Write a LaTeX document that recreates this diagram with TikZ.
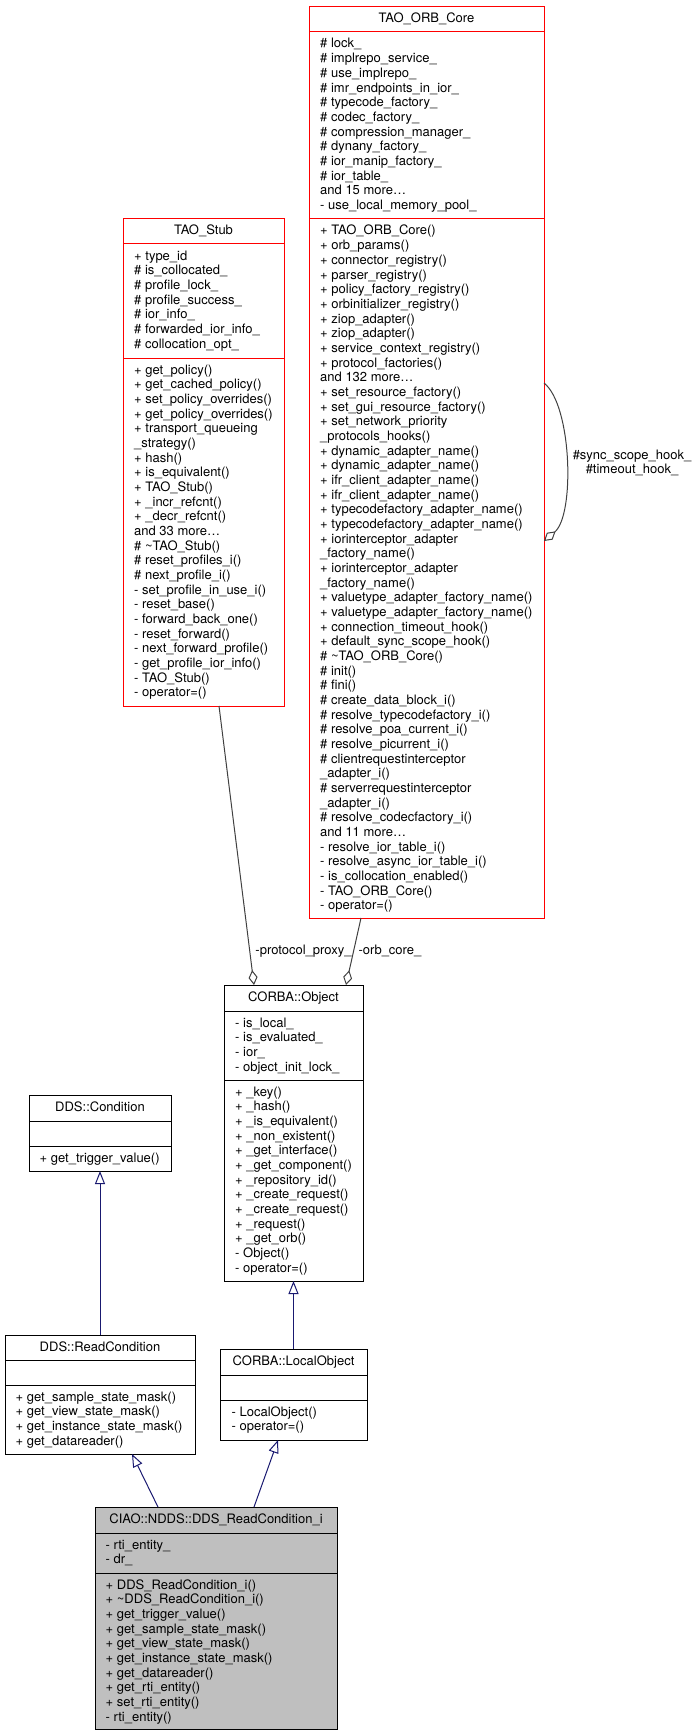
\documentclass[tikz,border=0pt]{standalone}
\usepackage{fontspec}
\setmainfont{TeX Gyre Heros}
\usetikzlibrary{arrows.meta}
\definecolor{midblue}{HTML}{191970}
\definecolor{edgegray}{HTML}{404040}
\definecolor{fillgray}{HTML}{BFBFBF}
\definecolor{tred}{HTML}{FF0000}
\newcommand\umllines[3]{\foreach [count=\i] \t in {#3} {\node[umltxt] at (#1,{#2+16+(\i-1)*14.67}) {\t};}}
\tikzset{
  umlfont/.style={font=\fontsize{13}{14.67}\selectfont},
  umltxt/.style={umlfont, anchor=base west, inner sep=0pt},
  umltitle/.style={umlfont, anchor=base, inner sep=0pt},
  classbox/.style={draw=black, line width=1pt, anchor=north west, inner sep=0pt, outer sep=0pt},
  redbox/.style={classbox, draw=tred},
  sepline/.style={line width=1pt},
  inh/.style={draw=midblue, line width=1pt, -{Triangle[open, length=13pt, width=10pt]}},
  aggr/.style={draw=edgegray, line width=1pt, -{Diamond[open, length=15pt, width=9pt]}},
  edgelabel/.style={umlfont, anchor=base, inner sep=0pt}
}
\begin{document}
\begin{tikzpicture}[x=1pt,y=-1pt]
\useasboundingbox (0,0) rectangle (697,1736);

% ---------------- TAO_ORB_Core ----------------
\node[redbox, minimum width=235, minimum height=911] (core) at (309,7) {};
\draw[sepline, tred] (309,32) -- (544,32);
\draw[sepline, tred] (309,219) -- (544,219);
\node[umltitle] (coreT) at (426.5,23) {TAO\_ORB\_Core};
\umllines{320}{32}{\# lock\_, \# implrepo\_service\_, \# use\_implrepo\_, \# imr\_endpoints\_in\_ior\_, \# typecode\_factory\_, \# codec\_factory\_, \# compression\_manager\_, \# dynany\_factory\_, \# ior\_manip\_factory\_, \# ior\_table\_, and 15 more\ldots, - use\_local\_memory\_pool\_}
\umllines{320}{219}{+ TAO\_ORB\_Core(), + orb\_params(), + connector\_registry(), + parser\_registry(), + policy\_factory\_registry(), + orbinitializer\_registry(), + ziop\_adapter(), + ziop\_adapter(), + service\_context\_registry(), + protocol\_factories(), and 132 more\ldots, + set\_resource\_factory(), + set\_gui\_resource\_factory(), + set\_network\_priority, \_protocols\_hooks(), + dynamic\_adapter\_name(), + dynamic\_adapter\_name(), + ifr\_client\_adapter\_name(), + ifr\_client\_adapter\_name(), + typecodefactory\_adapter\_name(), + typecodefactory\_adapter\_name(), + iorinterceptor\_adapter, \_factory\_name(), + iorinterceptor\_adapter, \_factory\_name(), + valuetype\_adapter\_factory\_name(), + valuetype\_adapter\_factory\_name(), + connection\_timeout\_hook(), + default\_sync\_scope\_hook(), \# \textasciitilde TAO\_ORB\_Core(), \# init(), \# fini(), \# create\_data\_block\_i(), \# resolve\_typecodefactory\_i(), \# resolve\_poa\_current\_i(), \# resolve\_picurrent\_i(), \# clientrequestinterceptor, \_adapter\_i(), \# serverrequestinterceptor, \_adapter\_i(), \# resolve\_codecfactory\_i(), and 11 more\ldots, - resolve\_ior\_table\_i(), - resolve\_async\_ior\_table\_i(), - is\_collocation\_enabled(), - TAO\_ORB\_Core(), - operator=()}

% ---------------- TAO_Stub ----------------
\node[redbox, minimum width=161, minimum height=487] (stub) at (123,219) {};
\draw[sepline, tred] (123,244) -- (284,244);
\draw[sepline, tred] (123,358) -- (284,358);
\node[umltitle] (stubT) at (203.5,235) {TAO\_Stub};
\umllines{134}{244}{+ type\_id, \# is\_collocated\_, \# profile\_lock\_, \# profile\_success\_, \# ior\_info\_, \# forwarded\_ior\_info\_, \# collocation\_opt\_}
\umllines{134}{358}{+ get\_policy(), + get\_cached\_policy(), + set\_policy\_overrides(), + get\_policy\_overrides(), + transport\_queueing, \_strategy(), + hash(), + is\_equivalent(), + TAO\_Stub(), + \_incr\_refcnt(), + \_decr\_refcnt(), and 33 more\ldots, \# \textasciitilde TAO\_Stub(), \# reset\_profiles\_i(), \# next\_profile\_i(), - set\_profile\_in\_use\_i(), - reset\_base(), - forward\_back\_one(), - reset\_forward(), - next\_forward\_profile(), - get\_profile\_ior\_info(), - TAO\_Stub(), - operator=()}

% ---------------- CORBA::Object ----------------
\node[classbox, minimum width=139, minimum height=296] (obj) at (224,985) {};
\draw[sepline] (224,1011) -- (363,1011);
\draw[sepline] (224,1080) -- (363,1080);
\node[umltitle] (objT) at (293.5,1001) {CORBA::Object};
\umllines{235}{1011}{- is\_local\_, - is\_evaluated\_, - ior\_, - object\_init\_lock\_}
\umllines{235}{1080}{+ \_key(), + \_hash(), + \_is\_equivalent(), + \_non\_existent(), + \_get\_interface(), + \_get\_component(), + \_repository\_id(), + \_create\_request(), + \_create\_request(), + \_request(), + \_get\_orb(), - Object(), - operator=()}

% ---------------- DDS::Condition ----------------
\node[classbox, minimum width=142, minimum height=76] (cond) at (29,1095) {};
\draw[sepline] (29,1121) -- (171,1121);
\draw[sepline] (29,1146) -- (171,1146);
\node[umltitle] (condT) at (100,1111) {DDS::Condition};
\umllines{39.5}{1146}{+ get\_trigger\_value()}

% ---------------- DDS::ReadCondition ----------------
\node[classbox, minimum width=190, minimum height=119] (read) at (5,1335) {};
\draw[sepline] (5,1360) -- (195,1360);
\draw[sepline] (5,1385) -- (195,1385);
\node[umltitle] (readT) at (100,1351) {DDS::ReadCondition};
\umllines{15.5}{1385}{+ get\_sample\_state\_mask(), + get\_view\_state\_mask(), + get\_instance\_state\_mask(), + get\_datareader()}

% ---------------- CORBA::LocalObject ----------------
\node[classbox, minimum width=147, minimum height=91] (local) at (220,1349) {};
\draw[sepline] (220,1375) -- (367,1375);
\draw[sepline] (220,1400) -- (367,1400);
\node[umltitle] (localT) at (293.5,1365) {CORBA::LocalObject};
\umllines{231.5}{1400}{- LocalObject(), - operator=()}

% ---------------- CIAO::NDDS::DDS_ReadCondition_i ----------------
\node[classbox, fill=fillgray, minimum width=242, minimum height=222] (ciao) at (95,1507) {};
\draw[sepline] (95,1533) -- (337,1533);
\draw[sepline] (95,1573) -- (337,1573);
\node[umltitle] (ciaoT) at (216,1523) {CIAO::NDDS::DDS\_ReadCondition\_i};
\umllines{105.5}{1533}{- rti\_entity\_, - dr\_}
\umllines{105.5}{1573}{+ DDS\_ReadCondition\_i(), + \textasciitilde DDS\_ReadCondition\_i(), + get\_trigger\_value(), + get\_sample\_state\_mask(), + get\_view\_state\_mask(), + get\_instance\_state\_mask(), + get\_datareader(), + get\_rti\_entity(), + set\_rti\_entity(), - rti\_entity()}

% ---------------- connectors ----------------
\draw[aggr] ([xshift=15.5]stub.south) -- ([xshift=-39.5]obj.north);
\draw[aggr] ([xshift=-65.5]core.south) -- ([xshift=52.5]obj.north);
\draw[aggr] ([yshift=79.5]core.east) .. controls (572,405) and (575,515) .. ([yshift=-78.5]core.east);
\draw[inh] (read.north) -- (cond.south);
\draw[inh] (local.north) -- (obj.south);
\draw[inh] ([xshift=-58]ciao.north) -- ([xshift=32]read.south);
\draw[inh] ([xshift=38]ciao.north) -- ([xshift=-15.5]local.south);

% ---------------- labels ----------------
\node[edgelabel] (lproxy) at (303.5,954) {-protocol\_proxy\_};
\node[edgelabel] (lorb) at (390,954) {-orb\_core\_};
\node[edgelabel] (lsync) at (632,459) {\#sync\_scope\_hook\_};
\node[edgelabel] (ltime) at (632,473) {\#timeout\_hook\_};
\end{tikzpicture}
\end{document}
